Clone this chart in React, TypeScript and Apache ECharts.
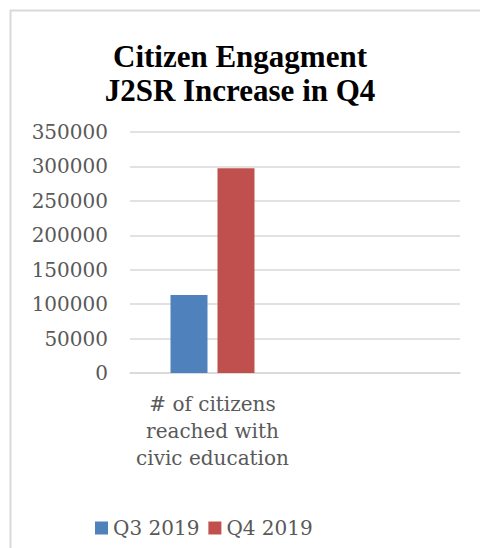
import React, { useEffect, useRef } from "react";
import * as echarts from "echarts";

const categories = ["# of citizens\nreached with\ncivic education", ""];
const seriesNames = ["Q3 2019", "Q4 2019"];
const q3Values: (number | string)[] = [113400, "-"];
const q4Values: (number | string)[] = [297400, "-"];
const yMin = 0;
const yMax = 350000;
const yInterval = 50000;
const titleText = "Citizen Engagment\nJ2SR Increase in Q4";

export default function App() {
  const ref = useRef<HTMLDivElement>(null);
  useEffect(() => {
    if (!ref.current) return;
    const chart = echarts.init(ref.current, null, { renderer: "svg" });
    const gray = "#595959";
    const font = "DejaVu Serif";
    chart.setOption({
      animation: false,
      backgroundColor: "#ffffff",
      title: {
        text: titleText,
        left: "center",
        top: 39,
        padding: 0,
        textStyle: {
          fontFamily: "Liberation Serif",
          fontWeight: "bold",
          fontSize: 31,
          lineHeight: 34,
          color: "#000000",
        },
      },
      graphic: [
        {
          type: "rect",
          shape: { x: 10.5, y: 10.5, width: 800, height: 800 },
          style: { fill: "none", stroke: "#d9d9d9", lineWidth: 2 },
          silent: true,
        },
      ],
      legend: {
        left: 95,
        top: 518,
        padding: 0,
        itemWidth: 13,
        itemHeight: 13,
        itemGap: 9,
        icon: "rect",
        textStyle: { fontFamily: font, fontSize: 20, color: gray },
        data: seriesNames,
      },
      grid: { left: 130, right: 20, top: 132, bottom: 175, containLabel: false },
      xAxis: {
        type: "category",
        data: categories,
        axisLine: { show: true, lineStyle: { color: "#d9d9d9", width: 1.5 } },
        axisTick: { show: false },
        axisLabel: {
          interval: 0,
          color: gray,
          fontFamily: font,
          fontSize: 20,
          lineHeight: 27,
          margin: 17,
        },
      },
      yAxis: {
        type: "value",
        min: yMin,
        max: yMax,
        interval: yInterval,
        axisLine: { show: false },
        axisTick: { show: false },
        axisLabel: {
          color: gray,
          fontFamily: font,
          fontSize: 20,
          margin: 22,
          formatter: (v: number) => String(v),
        },
        splitLine: { lineStyle: { color: "#d9d9d9", width: 1.5 } },
      },
      series: [
        {
          name: seriesNames[0],
          type: "bar",
          data: q3Values,
          barWidth: 37,
          barGap: "27%",
          itemStyle: { color: "#4f81bd" },
        },
        {
          name: seriesNames[1],
          type: "bar",
          data: q4Values,
          barWidth: 37,
          barGap: "27%",
          itemStyle: { color: "#c0504d" },
        },
      ],
    });
    return () => chart.dispose();
  }, []);
  return (
    <div
      ref={ref}
      style={{ position: "fixed", left: 0, top: 0, width: 480, height: 548 }}
    />
  );
}
